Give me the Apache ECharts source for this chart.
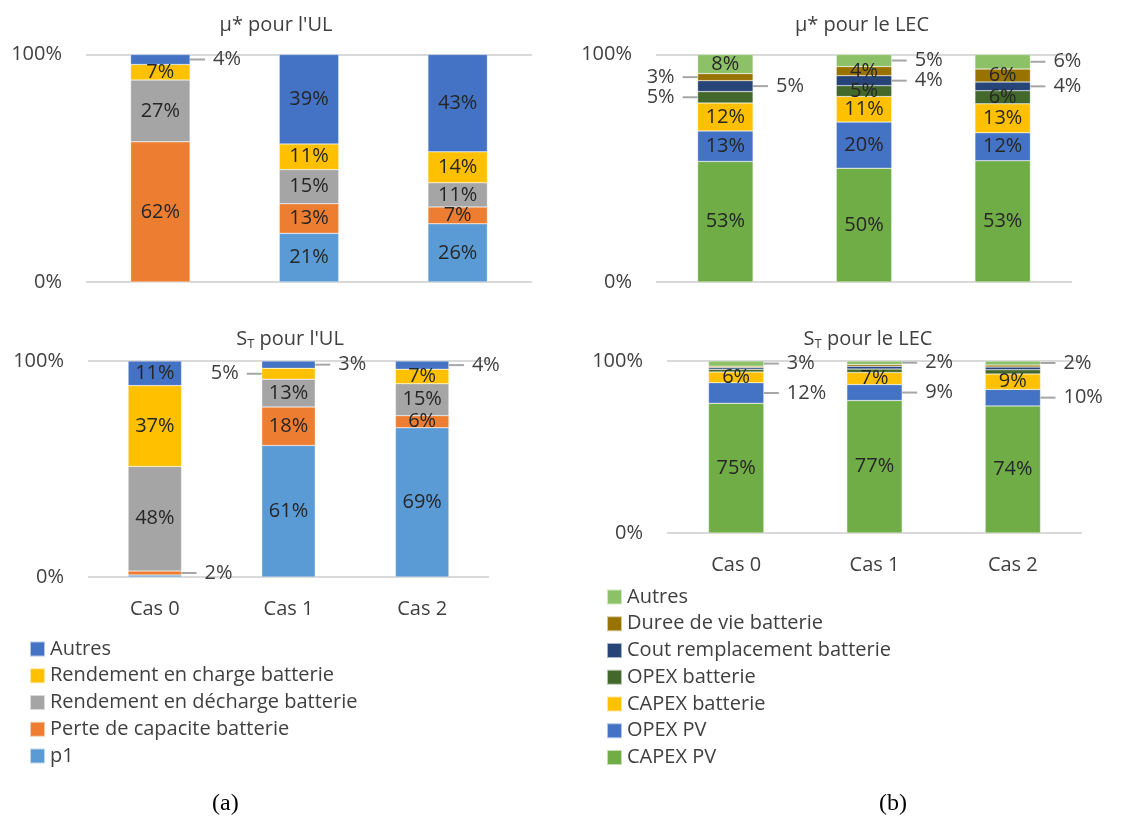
<!DOCTYPE html>
<html>
<head>
<meta charset="utf-8">
<script src="https://cdn.jsdelivr.net/npm/echarts@6/dist/echarts.min.js"></script>
<style>
  html, body { margin: 0; padding: 0; background: #fff; }
  #chart { width: 1140px; height: 819px; }
</style>
</head>
<body>
<div id="chart"></div>
<script>
// categories
var cases = ['Cas 0', 'Cas 1', 'Cas 2'];
var ulNames = ['p1', 'Perte de capacite batterie', 'Rendement en décharge batterie', 'Rendement en charge batterie', 'Autres'];
var lecNames = ['CAPEX PV', 'OPEX PV', 'CAPEX batterie', 'OPEX batterie', 'Cout remplacement batterie', 'Duree de vie batterie', 'Autres'];

// mu* pour l'UL (Cas 0, Cas 1, Cas 2) in %
var muUL_p1 = [0, 21.4, 25.6];
var muUL_perte = [61.6, 13.0, 7.4];
var muUL_decharge = [27.2, 15.0, 10.6];
var muUL_charge = [6.8, 11.3, 13.6];
var muUL_autres = [4.4, 39.3, 42.8];

// S_T pour l'UL
var stUL_p1 = [0.9, 60.9, 69.1];
var stUL_perte = [1.9, 17.8, 5.6];
var stUL_decharge = [48.4, 12.9, 14.8];
var stUL_charge = [37.4, 5.0, 6.7];
var stUL_autres = [11.4, 3.4, 3.8];

// mu* pour le LEC
var muLEC_capexPV = [53.0, 50.0, 53.3];
var muLEC_opexPV = [13.4, 20.3, 12.3];
var muLEC_capexBat = [12.3, 11.2, 12.7];
var muLEC_opexBat = [5.0, 4.8, 5.8];
var muLEC_cout = [4.8, 4.4, 3.8];
var muLEC_duree = [3.1, 4.0, 5.7];
var muLEC_autres = [8.4, 5.3, 6.4];

// S_T pour le LEC
var stLEC_capexPV = [75.4, 77.0, 73.9];
var stLEC_opexPV = [12.0, 9.3, 9.6];
var stLEC_capexBat = [6.2, 7.0, 8.9];
var stLEC_opexBat = [1.6, 2.0, 2.5];
var stLEC_cout = [1.0, 1.6, 1.6];
var stLEC_duree = [0.8, 1.1, 1.2];
var stLEC_autres = [3.0, 2.0, 2.3];

var yTicks = [0, 100];

var ulColors = ['#5B9BD5', '#ED7D31', '#A5A5A5', '#FFC000', '#4472C4'];
var lecColors = ['#70AD47', '#4472C4', '#FFC000', '#43682B', '#264478', '#997300', '#8CC168'];

// labels drawn outside the bar, with a leader line: [series name, case index, side]
var outsideUL1 = [['Autres', 0, 'right']];
var outsideUL2 = [['Perte de capacite batterie', 0, 'right'], ['Rendement en charge batterie', 1, 'left'], ['Autres', 1, 'right'], ['Autres', 2, 'right']];
var outsideLEC1 = [['OPEX batterie', 0, 'left'], ['Cout remplacement batterie', 0, 'right'], ['Duree de vie batterie', 0, 'left'],
                   ['Cout remplacement batterie', 1, 'right'], ['Autres', 1, 'right'], ['Cout remplacement batterie', 2, 'right'], ['Autres', 2, 'right']];
var outsideLEC2 = [['OPEX PV', 0, 'right'], ['Autres', 0, 'right'], ['OPEX PV', 1, 'right'], ['Autres', 1, 'right'], ['OPEX PV', 2, 'right'], ['Autres', 2, 'right']];
var hiddenLEC2 = ['OPEX batterie', 'Cout remplacement batterie', 'Duree de vie batterie'];

var FONT = 'Open Sans';
var TXT = '#404040';
var FS = 20;

var fmt = function (p) {
    if (p.value < 1) return '';
    return Math.round(p.value) + '%';
};
// leader line + value, as rich text
var fmtRight = function (p) {
    return '{l|}{v|' + Math.round(p.value) + '%}';
};
var fmtLeft = function (p) {
    return '{w|' + Math.round(p.value) + '%}{l|}';
};
var leaderRich = {
    l: { width: 15, height: 2, backgroundColor: '#a6a6a6' },
    v: { fontSize: FS, fontFamily: FONT, color: TXT, padding: [0, 0, 0, 8] },
    w: { fontSize: FS, fontFamily: FONT, color: TXT, padding: [0, 8, 0, 0] }
};

function sideOf(list, name, ci) {
    for (var i = 0; i < list.length; i++) {
        if (list[i][0] === name && list[i][1] === ci) return list[i][2];
    }
    return null;
}

function makeSeries(names, arrays, colors, gi, outside, hidden) {
    return names.map(function (name, si) {
        return {
            type: 'bar',
            name: name,
            stack: 'g' + gi,
            xAxisIndex: gi,
            yAxisIndex: gi,
            barWidth: '40%',
            itemStyle: { color: colors[si], borderColor: 'rgba(255,255,255,0.6)', borderWidth: 0.5 },
            label: {
                show: !(hidden && hidden.indexOf(name) >= 0),
                position: 'inside',
                fontSize: FS,
                fontFamily: FONT,
                color: '#262626',
                formatter: fmt
            },
            animation: false,
            data: arrays[si].map(function (v, ci) {
                var side = sideOf(outside, name, ci);
                if (!side) return v;
                return {
                    value: v,
                    label: {
                        position: side,
                        distance: 0,
                        formatter: side === 'right' ? fmtRight : fmtLeft,
                        rich: leaderRich
                    }
                };
            })
        };
    });
}

function makeGrid(left, top, width, height) {
    return { left: left, top: top, width: width, height: height, containLabel: false };
}

var grids = [
    makeGrid(86, 54.5, 446, 227.5),
    makeGrid(88, 361, 401, 216),
    makeGrid(656, 54.5, 416, 227.5),
    makeGrid(667, 361, 415, 172)
];

var xAxes = grids.map(function (g, i) {
    return {
        type: 'category',
        gridIndex: i,
        data: cases,
        axisLine: { show: false },
        axisTick: { show: false },
        axisLabel: { show: i === 1 || i === 3, fontSize: FS, fontFamily: FONT, color: TXT, margin: 22 }
    };
});

var yAxes = grids.map(function (g, i) {
    return {
        type: 'value',
        gridIndex: i,
        min: yTicks[0],
        max: yTicks[1],
        interval: 100,
        axisLine: { show: false },
        axisTick: { show: false },
        axisLabel: { fontSize: FS, fontFamily: FONT, color: TXT, margin: 24, formatter: '{value}%' },
        splitLine: { lineStyle: { color: '#d9d9d9', width: 2 } }
    };
});

var series = []
    .concat(makeSeries(ulNames, [muUL_p1, muUL_perte, muUL_decharge, muUL_charge, muUL_autres], ulColors, 0, outsideUL1))
    .concat(makeSeries(ulNames, [stUL_p1, stUL_perte, stUL_decharge, stUL_charge, stUL_autres], ulColors, 1, outsideUL2))
    .concat(makeSeries(lecNames, [muLEC_capexPV, muLEC_opexPV, muLEC_capexBat, muLEC_opexBat, muLEC_cout, muLEC_duree, muLEC_autres], lecColors, 2, outsideLEC1))
    .concat(makeSeries(lecNames, [stLEC_capexPV, stLEC_opexPV, stLEC_capexBat, stLEC_opexBat, stLEC_cout, stLEC_duree, stLEC_autres], lecColors, 3, outsideLEC2, hiddenLEC2));

var legendUL = ulNames.slice().reverse().map(function (n) {
    return { name: n, itemStyle: { color: ulColors[ulNames.indexOf(n)] } };
});
var legendLEC = lecNames.slice().reverse().map(function (n) {
    return { name: n, itemStyle: { color: lecColors[lecNames.indexOf(n)] } };
});

var titleStyle = {
    fontSize: FS, fontFamily: FONT, fontWeight: 'normal', color: TXT,
    rich: { s: { fontSize: FS, fontFamily: FONT, color: TXT }, t: { fontSize: 13, fontFamily: FONT, color: TXT, padding: [11, 0, 0, 0] } }
};

function title(text, x, y) {
    return { text: text, left: x, top: y, textAlign: 'center', textStyle: titleStyle, padding: 0 };
}

var myChart = echarts.init(document.getElementById('chart'), null, { renderer: 'canvas' });
var option = {
    animation: false,
    title: [
        title("μ* pour l'UL", 276, 15),
        title("μ* pour le LEC", 862, 15),
        title("{s|S}{t|T}{s| pour l'UL}", 290, 327),
        title("{s|S}{t|T}{s| pour le LEC}", 868, 327)
    ],
    grid: grids,
    xAxis: xAxes,
    yAxis: yAxes,
    legend: [
        {
            orient: 'vertical', left: 24, top: 634, itemGap: 6.75,
            itemWidth: 15, itemHeight: 15, icon: 'rect', selectedMode: false,
            textStyle: { fontSize: FS, fontFamily: FONT, color: TXT },
            data: legendUL
        },
        {
            orient: 'vertical', left: 601, top: 582, itemGap: 6.75,
            itemWidth: 15, itemHeight: 15, icon: 'rect', selectedMode: false,
            textStyle: { fontSize: FS, fontFamily: FONT, color: TXT },
            data: legendLEC
        }
    ],
    graphic: [
        { type: 'text', left: 212, top: 792, style: { text: '(a)', font: '24px "Liberation Serif"', fill: '#000' } },
        { type: 'text', left: 879, top: 792, style: { text: '(b)', font: '24px "Liberation Serif"', fill: '#000' } }
    ],
    series: series
};
myChart.setOption(option);
</script>
</body>
</html>
